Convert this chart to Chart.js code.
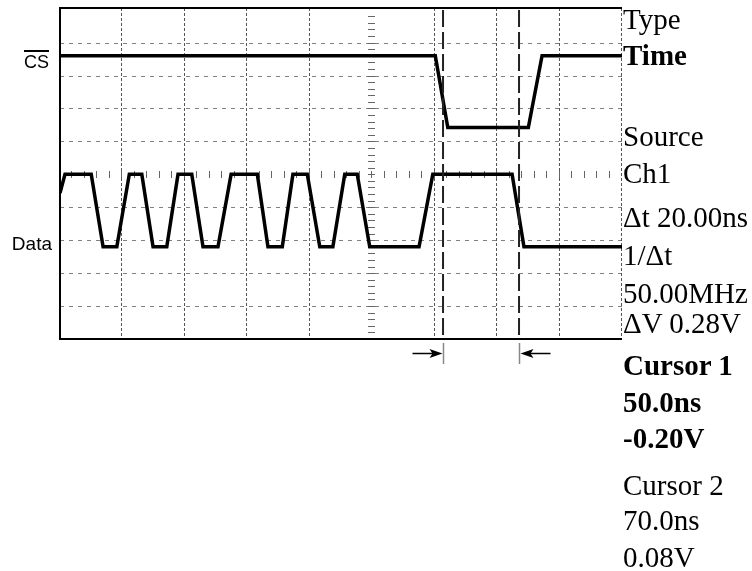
<!DOCTYPE html>
<html><head><meta charset="utf-8">
<script src="https://cdn.jsdelivr.net/npm/chart.js@4.4.1/dist/chart.umd.min.js"></script>
<style>
html,body{margin:0;padding:0;background:#fff;}
#wrap{position:relative;width:752px;height:571px;overflow:hidden;background:#fff;}
canvas{position:absolute;left:0;top:0;}
.t{position:absolute;left:623px;font-family:"Liberation Serif","Times New Roman",serif;font-size:29px;line-height:29px;white-space:nowrap;color:#000;}
.b{font-weight:bold;}
.lab{position:absolute;font-family:"Liberation Sans",Arial,sans-serif;color:#000;white-space:nowrap;text-align:right;}
</style></head><body>
<div id="wrap"><canvas id="c" width="752" height="571"></canvas></div>
<script>
// Time axis in screen divisions, level axis in vertical divisions
const csTime    = [0, 6.01, 6.21, 7.50, 7.72, 9.0];
const csLevel   = [8.6, 8.6, 6.42, 6.42, 8.6, 8.6];
const dataTime  = [0, 0.08, 0.50, 0.69, 0.91, 1.11, 1.31, 1.49, 1.71, 1.89, 2.11, 2.29, 2.53, 2.74,
                   3.16, 3.33, 3.56, 3.73, 3.96, 4.16, 4.37, 4.56, 4.76, 4.96, 5.75, 5.97, 7.24, 7.43, 9.0];
const dataLevel = [4.43, 5.0, 5.0, 2.8, 2.8, 5.0, 5.0, 2.8, 2.8, 5.0, 5.0, 2.8, 2.8, 5.0,
                   5.0, 2.8, 2.8, 5.0, 5.0, 2.8, 2.8, 5.0, 5.0, 2.8, 2.8, 5.0, 5.0, 2.8, 2.8];
const cursorTimes = [6.134, 7.351];
const xMin = 0, xMax = 9, yMin = 0, yMax = 10.05;
const gridDivsX = [1,2,3,4,6,7,8,9];
const gridDivsY = [1,2,3,4,6,7,8,9];
const centerDiv = 5;

const panelText = ['Type','Time','Source','Ch1','\u0394t 20.00ns','1/\u0394t','50.00MHz','\u0394V 0.28V',
                   'Cursor 1','50.0ns','-0.20V','Cursor 2','70.0ns','0.08V'];
const panelBold = [false,true,false,false,false,false,false,false,true,true,true,false,false,false];
const panelBaseline = [29,65,146,183,227,265,303,333,375,412,448,495,530,567];

const wrap = document.getElementById('wrap');
panelText.forEach((s,i)=>{
  const d=document.createElement('div');
  d.className='t'+(panelBold[i]?' b':'');
  d.textContent=s;
  d.style.top=(panelBaseline[i]-24.3)+'px';
  wrap.appendChild(d);
});
function addLabel(html, right, top, size){
  const d=document.createElement('div');
  d.className='lab';
  d.innerHTML=html;
  d.style.right=right+'px';
  d.style.top=top+'px';
  d.style.fontSize=size+'px';
  d.style.lineHeight=size+'px';
  wrap.appendChild(d);
}
addLabel('<span style="text-decoration:overline;text-decoration-thickness:1.5px">CS</span>', 703, 52.8, 18);
addLabel('Data', 700, 234, 19);

const pts = (xs, ys) => xs.map((v,i)=>({x:v, y:ys[i]}));

const scopePlugin = {
  id:'scope',
  beforeDatasetsDraw(chart){
    const {ctx, chartArea:a, scales:{x,y}} = chart;
    ctx.save();
    ctx.lineWidth=1;
    ctx.strokeStyle='#808080';
    ctx.setLineDash([4,5]);
    gridDivsY.forEach(v=>{
      const py=Math.round(y.getPixelForValue(v))+0.5;
      ctx.beginPath(); ctx.moveTo(a.left,py); ctx.lineTo(a.right,py); ctx.stroke();
    });
    ctx.strokeStyle='#555';
    ctx.setLineDash([3,2]);
    gridDivsX.forEach(v=>{
      const px=Math.round(x.getPixelForValue(v))-0.5;
      ctx.beginPath(); ctx.moveTo(px,a.top); ctx.lineTo(px,a.bottom); ctx.stroke();
    });
    ctx.setLineDash([]);
    ctx.strokeStyle='#666';
    const cx=Math.round(x.getPixelForValue(centerDiv))-0.5, cy=Math.round(y.getPixelForValue(centerDiv))+0.5;
    for(let k=1;k<50;k++){
      const py=Math.round(y.getPixelForValue(k*0.2))+0.5;
      ctx.beginPath(); ctx.moveTo(cx-3.5,py); ctx.lineTo(cx+3.5,py); ctx.stroke();
    }
    for(let k=1;k<45;k++){
      const px=Math.round(x.getPixelForValue(k*0.2))-0.5;
      ctx.beginPath(); ctx.moveTo(px,cy-3.5); ctx.lineTo(px,cy+3.5); ctx.stroke();
    }
    ctx.restore();
  },
  afterDatasetsDraw(chart){
    const {ctx, chartArea:a, scales:{x}} = chart;
    ctx.save();
    ctx.strokeStyle='#000';
    ctx.lineWidth=2;
    ctx.beginPath();
    ctx.moveTo(a.right,a.top); ctx.lineTo(a.left,a.top); ctx.lineTo(a.left,a.bottom); ctx.lineTo(a.right,a.bottom);
    ctx.stroke();
    const ay=a.bottom+14.5;
    cursorTimes.forEach((t,i)=>{
      const px=Math.round(x.getPixelForValue(t))+0.5;
      ctx.strokeStyle='#888'; ctx.lineWidth=1.5;
      ctx.beginPath(); ctx.moveTo(px,a.bottom+4); ctx.lineTo(px,a.bottom+25); ctx.stroke();
      const dir = i===0 ? 1 : -1;
      ctx.strokeStyle='#000'; ctx.lineWidth=1.5;
      ctx.beginPath(); ctx.moveTo(px-dir*31,ay); ctx.lineTo(px-dir*10,ay); ctx.stroke();
      ctx.fillStyle='#000';
      ctx.beginPath(); ctx.moveTo(px-dir*1,ay); ctx.lineTo(px-dir*14,ay-4.5); ctx.lineTo(px-dir*11,ay); ctx.lineTo(px-dir*14,ay+4.5); ctx.closePath(); ctx.fill();
    });
    ctx.restore();
  }
};

new Chart(document.getElementById('c'), {
  type:'line',
  data:{datasets:[
    {label:'Cursor 1', data:pts([cursorTimes[0],cursorTimes[0]],[yMin+0.12,yMax]), borderColor:'#222', borderWidth:2, borderDash:[17,5], pointRadius:0},
    {label:'Cursor 2', data:pts([cursorTimes[1],cursorTimes[1]],[yMin+0.12,yMax]), borderColor:'#222', borderWidth:2, borderDash:[17,5], pointRadius:0},
    {label:'CS', data:pts(csTime,csLevel), borderColor:'#000', borderWidth:3.5, pointRadius:0, borderJoinStyle:'miter'},
    {label:'Data', data:pts(dataTime,dataLevel), borderColor:'#000', borderWidth:3.5, pointRadius:0, borderJoinStyle:'miter'}
  ]},
  options:{
    responsive:false, animation:false, devicePixelRatio:1,
    layout:{padding:{left:60,top:8,right:130,bottom:232}},
    plugins:{legend:{display:false},tooltip:{enabled:false}},
    elements:{line:{tension:0}},
    scales:{
      x:{type:'linear',min:xMin,max:xMax,display:false},
      y:{type:'linear',min:yMin,max:yMax,display:false}
    }
  },
  plugins:[scopePlugin]
});
</script>
</body></html>
